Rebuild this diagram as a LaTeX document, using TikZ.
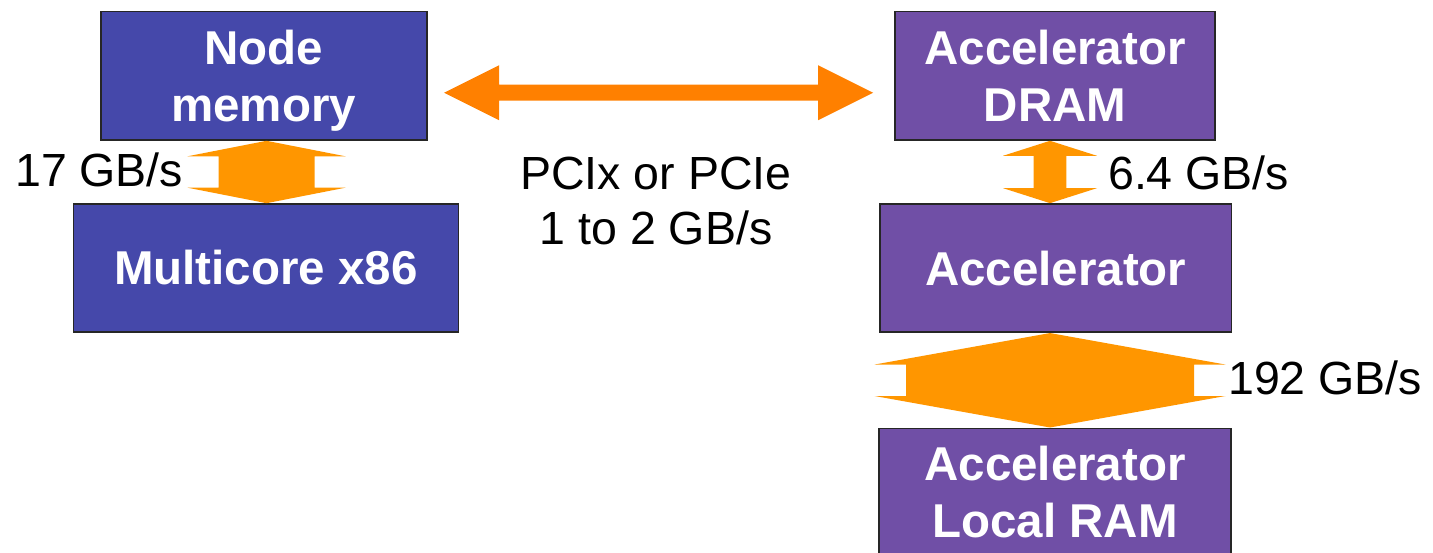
\documentclass[tikz,border=0pt]{standalone}
\usepackage{fontspec}
\setmainfont{Liberation Sans}
\usetikzlibrary{calc}

\definecolor{hostblue}{HTML}{4548AA}
\definecolor{accpurple}{HTML}{704FA6}
\definecolor{busorange}{HTML}{FF8000}
\definecolor{linkorange}{HTML}{FF9600}

\tikzset{
  box/.style={draw=black!85, line width=1.6pt, inner sep=0pt, align=center,
    text=white, font=\fontsize{47.5}{57}\selectfont\bfseries},
  hostbox/.style={box, fill=hostblue},
  accbox/.style={box, fill=accpurple},
  rate/.style={font=\fontsize{46.5}{55}\selectfont, text=black, inner sep=0pt},
  linkflow/.style={fill=linkorange},
  busflow/.style={fill=busorange},
}

% Fat vertical double arrow from the top anchor #1 down to the level of #2.
% #3 head half-width, #4 shaft half-width, #5 head length, #6 x offset.
\newcommand\fatvarrow[6]{%
  \fill[linkflow] ($(#1)+(#6,0)$) coordinate (tip) -- ++(#3,#5) -- ++({#4-#3},0)
    -- ($(tip |- #2)+(#4,-#5)$) -- ++({#3-#4},0) -- (tip |- #2)
    -- ++(-#3,-#5) -- ++({#3-#4},0) -- ($(tip)+(-#4,#5)$) -- ++({#4-#3},0) -- cycle;}

% Fat horizontal double arrow between two named coordinates on one level.
% #3 head half-height, #4 shaft half-height, #5 head length.
\newcommand\fatharrow[5]{%
  \fill[busflow] (#1) -- ++(#5,-#3) -- ++(0,{#3-#4}) -- ($(#2)+(-#5,-#4)$)
    -- ++(0,{#4-#3}) -- (#2) -- ++(-#5,#3) -- ++(0,{#4-#3})
    -- ($(#1)+(#5,#4)$) -- ++(0,{#3-#4}) -- cycle;}

\begin{document}
\begin{tikzpicture}[x=1pt, y=-1pt]
  \useasboundingbox (0,0) rectangle (1433,553);
  \clip (0,0) rectangle (1433,553);

  % host side
  \node[hostbox, minimum width=326, minimum height=128.3] (nm) at (263.7,75.85)
    {Node\\memor\smash{y}};
  \node[hostbox, minimum width=385, minimum height=128] (mc) at (265.8,268)
    {Multicore x86};

  % accelerator side
  \node[accbox, minimum width=320, minimum height=128.3] (dram) at (1055,75.85)
    {Accelerator\\DRAM};
  \node[accbox, minimum width=351.7, minimum height=128.3] (acc) at (1055.8,268.1)
    {Accelerator};
  \node[accbox, minimum width=352, minimum height=128] (lram) at (1055,492.3)
    {Accelerator\\Local RAM};

  % links
  \fatvarrow{nm.south}{mc.north}{79}{48}{15.5}{2.8}
  \fatvarrow{dram.south}{acc.north}{47}{16.3}{15}{-5}
  \fatvarrow{acc.south}{lram.north}{175.5}{144}{31.5}{-5.8}

  \coordinate (busL) at ($(nm.east)+(16.6,16.9)$);
  \coordinate (busR) at ($(dram.west)+(-21,16.9)$);
  \fatharrow{busL}{busR}{27.5}{8}{55}

  % bandwidth labels
  \node[rate, anchor=base west] (r17) at (15,186.7) {17 GB/s};
  \node[rate, anchor=base west] (r64) at (1108,190) {6.4 GB/s};
  \node[rate, anchor=base west] (r192) at (1228,395) {192 GB/s};
  \node[rate, anchor=base, align=center] (rpci) at (656,245) {PCIx or PCIe\\1 to 2 GB/s};
\end{tikzpicture}
\end{document}
